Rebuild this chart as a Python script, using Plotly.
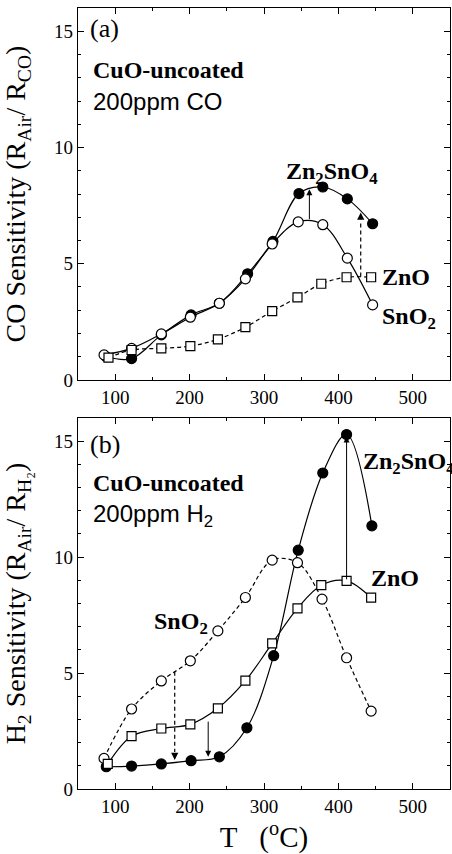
import plotly.graph_objects as go

# ---------------- data ----------------
# (a) 200 ppm CO
co_T_zts = [88, 122, 162, 202, 240, 278, 312, 347, 379, 412, 446]
co_S_zts = [1.0, 0.92, 1.94, 2.8, 3.3, 4.57, 5.96, 8.02, 8.3, 7.79, 6.72]
co_T_sno2 = [85, 122, 162, 201, 240, 275, 311, 346, 379, 412, 446]
co_S_sno2 = [1.08, 1.36, 1.98, 2.7, 3.3, 4.35, 5.85, 6.8, 6.68, 5.24, 3.23]
co_T_zno = [91, 122, 162, 201, 238, 275, 311, 345, 377, 411, 444]
co_S_zno = [0.96, 1.29, 1.36, 1.46, 1.75, 2.27, 2.96, 3.55, 4.14, 4.42, 4.42]

# (b) 200 ppm H2
h2_T_zts = [88, 122, 162, 202, 240, 277, 313, 346, 379, 411, 445]
h2_S_zts = [0.96, 0.99, 1.08, 1.22, 1.39, 2.64, 5.75, 10.3, 13.63, 15.29, 11.35]
h2_T_sno2 = [85, 122, 162, 201, 238, 275, 311, 345, 378, 411, 444]
h2_S_sno2 = [1.32, 3.45, 4.66, 5.53, 6.82, 8.26, 9.87, 9.76, 8.19, 5.66, 3.36]
h2_T_zno = [90, 122, 162, 201, 238, 275, 311, 345, 377, 411, 444]
h2_S_zno = [1.08, 2.28, 2.61, 2.79, 3.48, 4.67, 6.28, 7.79, 8.79, 8.98, 8.25]

x_range = [50, 550]
y_range = [0, 16]
x_ticks = [100, 200, 300, 400, 500]
y_ticks = [0, 5, 10, 15]

# arrows: (x, y_tail, y_head, dashed)
co_arrows = [(361, 6.85, 8.2, False), (430, 4.45, 7.2, True)]
h2_arrows = [(180, 5.06, 1.25, True), (225, 2.97, 1.39, False), (411, 8.98, 15.2, False)]

SERIF = "Liberation Serif"
SANS = "Liberation Sans"
BLACK = "black"

fig = go.Figure()

def add_series(T, S, xa, ya, symbol, fill, dash):
    fig.add_trace(go.Scatter(
        x=T, y=S, xaxis=xa, yaxis=ya, mode="lines+markers",
        line=dict(color=BLACK, width=1.2, shape="spline", smoothing=1.0, dash=dash),
        marker=dict(symbol=symbol, size=10 if symbol == "circle" else 9,
                    color=fill, line=dict(color=BLACK, width=1.2)),
        showlegend=False, cliponaxis=False))

# panel (a)
add_series(co_T_zts, co_S_zts, "x", "y", "circle", BLACK, "solid")
add_series(co_T_sno2, co_S_sno2, "x", "y", "circle", "white", "solid")
add_series(co_T_zno, co_S_zno, "x", "y", "square", "white", "4px,3px")
# panel (b)
add_series(h2_T_zts, h2_S_zts, "x2", "y2", "circle", BLACK, "solid")
add_series(h2_T_sno2, h2_S_sno2, "x2", "y2", "circle", "white", "4px,3px")
add_series(h2_T_zno, h2_S_zno, "x2", "y2", "square", "white", "solid")

annotations = []
shapes = []

def add_arrows(arrows, xr, yr):
    for (x, y0, y1, dashed) in arrows:
        if dashed:
            sign = 1 if y1 > y0 else -1
            yend = y1 - sign * 0.35
            shapes.append(dict(type="line", xref=xr, yref=yr, x0=x, x1=x, y0=y0, y1=yend,
                               line=dict(color=BLACK, width=1.2, dash="4px,3px")))
            annotations.append(dict(x=x, y=y1, ax=x, ay=yend, xref=xr, yref=yr, axref=xr, ayref=yr,
                                    showarrow=True, arrowhead=2, arrowsize=1.2, arrowwidth=1.2,
                                    arrowcolor=BLACK, text=""))
        else:
            annotations.append(dict(x=x, y=y1, ax=x, ay=y0, xref=xr, yref=yr, axref=xr, ayref=yr,
                                    showarrow=True, arrowhead=2, arrowsize=1.2, arrowwidth=1.0,
                                    arrowcolor=BLACK, text=""))

add_arrows(co_arrows, "x", "y")
add_arrows(h2_arrows, "x2", "y2")

def txt(x, y, s, xr, yr, family=SERIF, size=24, bold=False):
    if bold:
        s = "<b>" + s + "</b>"
    annotations.append(dict(x=x, y=y, xref=xr, yref=yr, text=s, showarrow=False,
                            xanchor="left", yanchor="middle",
                            font=dict(family=family, size=size, color=BLACK)))

# panel (a) texts
txt(64, 15.1, "(a)", "x", "y", size=26)
txt(67, 13.35, "CuO-uncoated", "x", "y", bold=True)
txt(67, 12.0, "200ppm CO", "x", "y", family=SANS, size=24)
txt(327, 8.9, "Zn<sub>2</sub>SnO<sub>4</sub>", "x", "y", bold=True)
txt(456, 4.44, "ZnO", "x", "y", bold=True)
txt(456, 2.67, "SnO<sub>2</sub>", "x", "y", bold=True)

# panel (b) texts
txt(64, 14.87, "(b)", "x2", "y2", size=26)
txt(67, 13.2, "CuO-uncoated", "x2", "y2", bold=True)
txt(67, 11.8, "200ppm H<sub>2</sub>", "x2", "y2", family=SANS, size=24)
txt(431, 14.05, "Zn<sub>2</sub>SnO<sub>4</sub>", "x2", "y2", bold=True)
txt(441, 9.1, "ZnO", "x2", "y2", bold=True)
txt(150, 7.15, "SnO<sub>2</sub>", "x2", "y2", bold=True)

axis_common = dict(showline=True, linecolor=BLACK, linewidth=1.2, mirror="allticks",
                   ticks="inside", ticklen=6, tickwidth=1, tickcolor=BLACK,
                   showgrid=False, zeroline=False,
                   tickfont=dict(family=SERIF, size=19, color=BLACK))

xa = dict(axis_common, range=x_range, tickvals=x_ticks,
          minor=dict(dtick=50, tick0=0, ticks="inside", ticklen=3, tickcolor=BLACK, showgrid=False))
ya = dict(axis_common, range=y_range, tickvals=y_ticks,
          minor=dict(dtick=1, tick0=0, ticks="inside", ticklen=3, tickcolor=BLACK, showgrid=False))

fig.update_layout(
    width=452, height=854,
    margin=dict(l=78, r=2, t=8, b=65),
    plot_bgcolor="white", paper_bgcolor="white",
    xaxis=dict(xa, domain=[0, 1], anchor="y"),
    yaxis=dict(ya, domain=[0.5237, 1], anchor="x",
               title=dict(text="CO Sensitivity (R<sub>Air</sub>/ R<sub>CO</sub>)",
                          font=dict(family=SERIF, size=28, color=BLACK), standoff=22)),
    xaxis2=dict(xa, domain=[0, 1], anchor="y2",
                title=dict(text="T&nbsp;&nbsp;&nbsp;(<sup>o</sup>C)",
                           font=dict(family=SERIF, size=29, color=BLACK), standoff=8)),
    yaxis2=dict(ya, domain=[0, 0.475], anchor="x2",
                title=dict(text="H<sub>2</sub> Sensitivity (R<sub>Air</sub>/ R<sub>H₂</sub>)",
                           font=dict(family=SERIF, size=28, color=BLACK), standoff=22)),
    annotations=annotations,
    shapes=shapes,
)

fig.write_html("out.html")
